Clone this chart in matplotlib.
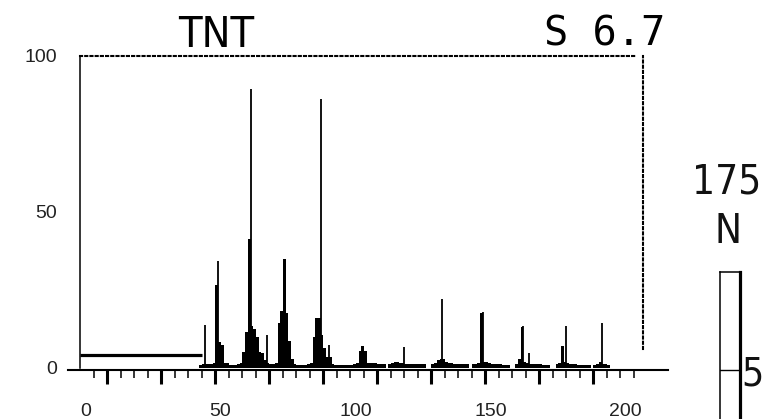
import matplotlib
matplotlib.use("Agg")
import matplotlib.pyplot as plt

# m/z positions and relative intensities
bar_mz = list(range(45, 199))
bar_h = [
    1.0, 1.2, 1.2, 1.2, 1.2, 1.5, 26.6, 8.4, 7.5, 1.6,      # 45-54
    1.6, 1.0, 1.0, 1.0, 1.2, 1.5, 5.2, 11.6, 41.3, 13.3,    # 55-64
    12.5, 10.0, 5.0, 4.7, 2.6, 1.6, 1.2, 1.2, 1.5, 14.4,    # 65-74
    18.4, 35.0, 17.5, 8.5, 3.0, 1.2, 1.0, 1.0, 1.0, 1.0,    # 75-84
    1.2, 1.5, 10.0, 16.0, 16.0, 10.6, 6.4, 3.6, 3.6, 1.2,   # 85-94
    1.0, 1.0, 1.0, 1.0, 1.0, 1.0, 1.0, 1.2, 1.5, 5.5,       # 95-104
    7.0, 5.5, 1.5, 1.5, 1.5, 1.5, 1.2, 1.2, 1.2, 0.0,       # 105-114
    1.2, 1.5, 2.0, 2.0, 1.5, 1.5, 1.2, 1.2, 1.2, 1.2,       # 115-124
    1.2, 1.2, 1.2, 1.2, 0.0, 0.0, 1.2, 1.5, 2.5, 3.0,       # 125-134
    3.0, 2.0, 1.5, 1.5, 1.2, 1.2, 1.2, 1.2, 1.2, 1.2,       # 135-144
    0.0, 1.2, 1.2, 1.5, 17.5, 1.8, 1.8, 1.5, 1.2, 1.2,      # 145-154
    1.2, 1.2, 1.0, 1.0, 1.0, 0.0, 0.0, 1.2, 2.8, 13.0,      # 155-164
    2.0, 1.5, 1.2, 1.2, 1.2, 1.2, 1.2, 1.0, 1.0, 1.0,       # 165-174
    0.0, 0.0, 1.2, 1.5, 7.0, 2.0, 1.5, 1.2, 1.2, 1.2,       # 175-184
    1.0, 1.0, 1.0, 1.0, 1.0, 0.0, 1.0, 1.3, 2.0, 1.3,       # 185-194
    1.3, 1.0, 0.0, 0.0,                                     # 195-198
]

spike_mz = [46, 51, 63, 69, 89, 92, 120, 134, 149, 164, 166, 180, 193]
spike_h = [13.8, 34.3, 89.4, 10.6, 86.2, 7.4, 6.7, 22.0, 18.0, 13.5, 4.7, 13.5, 14.3]

threshold = 4.2
threshold_end = 45
x_labels = [0, 50, 100, 150, 200]
y_labels = [0, 50, 100]

title = "TNT"
scan = "S 6.7"
side_value = "175"
side_letter = "N"
gauge_value = 5

fig = plt.figure(figsize=(7.74, 4.19), dpi=100)
ax = fig.add_axes([68 / 774, (419 - 369.5) / 419, 600 / 774, 329.5 / 419])
ax.set_xlim(-4.6, 217.6)
ax.set_ylim(-0.5, 105.1)

ax.bar(bar_mz, bar_h, width=-1.0, align="edge", color="black", linewidth=0)
ax.vlines(spike_mz, 0, spike_h, color="black", lw=1.3)
ax.hlines(threshold, 0, threshold_end, color="black", lw=2.3)

# frame
ax.spines["left"].set_position(("data", 0))
ax.spines["left"].set_bounds(0, 100)
ax.spines["left"].set_linewidth(1.1)
ax.spines["bottom"].set_linewidth(1.5)
ax.spines["top"].set_position(("data", 100))
ax.spines["top"].set_bounds(0, 206)
ax.spines["top"].set_linestyle((0, (1, 1.5)))
ax.spines["top"].set_linewidth(1.5)
ax.spines["right"].set_position(("data", 208.3))
ax.spines["right"].set_bounds(6, 100)
ax.spines["right"].set_linestyle((0, (1, 1.5)))
ax.spines["right"].set_linewidth(1.5)

ax.set_yticks(y_labels)
ax.tick_params(axis="y", length=0, pad=17, labelsize=14, labelcolor="#222",
               right=False)
for lab in ax.get_yticklabels():
    lab.set_family("Liberation Sans")

ax.set_xticks(range(10, 200, 20))
ax.set_xticks(range(5, 210, 5), minor=True)
ax.tick_params(axis="x", which="major", length=10, width=2.2, labelbottom=False,
               top=False)
ax.tick_params(axis="x", which="minor", length=6, width=1.1, top=False)

sec = ax.secondary_xaxis("bottom", functions=(lambda x: x - 1.85, lambda x: x + 1.85))
sec.set_xticks(x_labels)
sec.tick_params(length=0, pad=24, labelsize=14, labelcolor="#222")
sec.spines["bottom"].set_visible(False)
for lab in sec.get_xticklabels():
    lab.set_family("Liberation Sans")

fig.text(216 / 774, 1 - 47 / 419, title, ha="center", va="baseline",
         fontsize=31, family="DejaVu Sans", fontstretch="condensed")
fig.text(605 / 774, 1 - 45 / 419, scan, ha="center", va="baseline",
         fontsize=29, family="DejaVu Sans Mono")
fig.text(727 / 774, 1 - 193 / 419, side_value, ha="center", va="baseline",
         fontsize=29, family="DejaVu Sans", fontstretch="condensed", color="#111")
fig.text(728 / 774, 1 - 243 / 419, side_letter, ha="center", va="baseline",
         fontsize=29, family="DejaVu Sans", fontstretch="condensed", color="#111")

# gauge on the right
gx = fig.add_axes([720 / 774, 0, 20 / 774, 147 / 419])
gx.set_xlim(0, 1)
gx.set_ylim(0, 15)
gx.axhline(gauge_value, color="black", lw=1.0)
gx.spines["bottom"].set_visible(False)
gx.spines["left"].set_linewidth(1.1)
gx.spines["top"].set_linewidth(1.1)
gx.spines["right"].set_linewidth(2.3)
gx.set_xticks([])
gx.set_yticks([gauge_value])
gx.yaxis.tick_right()
gx.tick_params(axis="y", length=0, pad=1, labelsize=28, labelcolor="#111")
for lab in gx.get_yticklabels():
    lab.set_family("DejaVu Sans")
    lab.set_fontstretch("condensed")

fig.savefig("out.png", dpi=100)
